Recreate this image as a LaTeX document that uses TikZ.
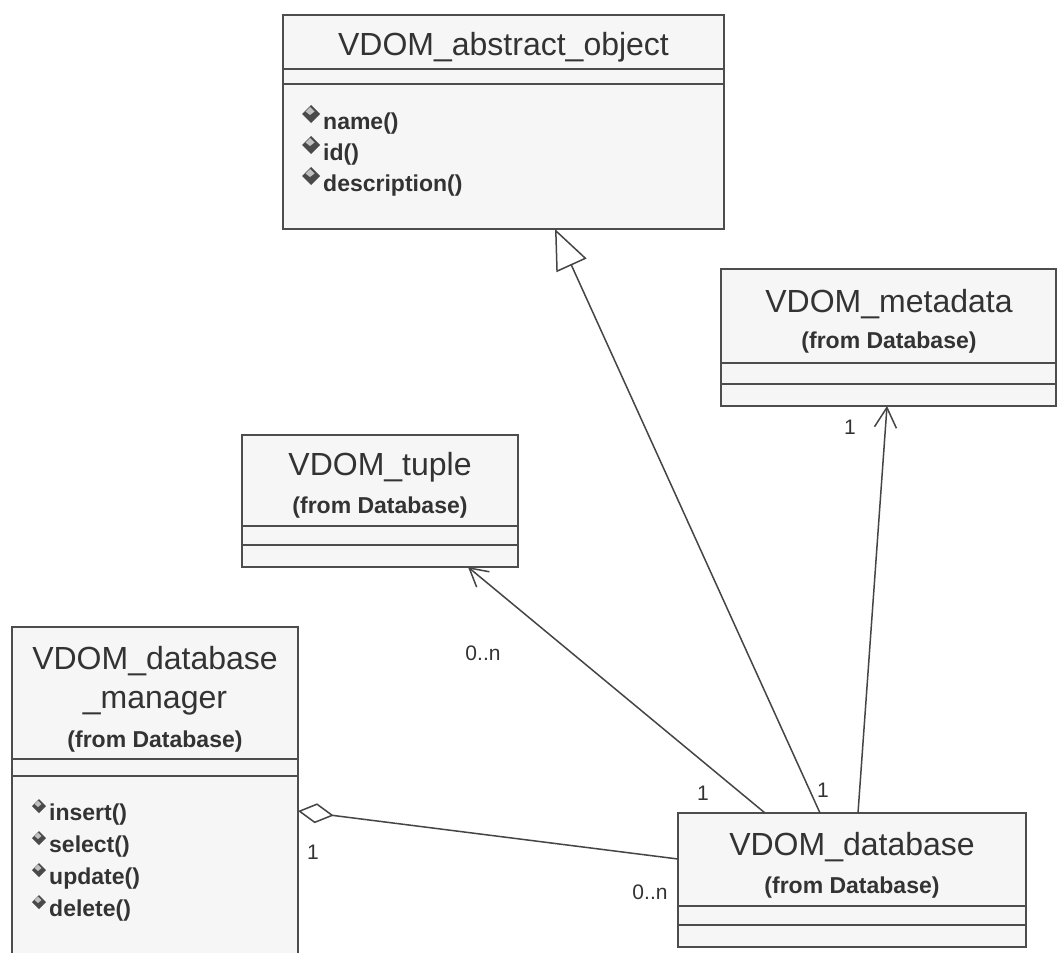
\documentclass[tikz,border=0pt]{standalone}
\usepackage{fontspec}
\setmainfont{Liberation Sans}
\usetikzlibrary{arrows.meta,calc}

\definecolor{boxline}{HTML}{4D4D4D}
\definecolor{boxfill}{HTML}{F6F6F6}
\definecolor{linkcol}{HTML}{454545}
\definecolor{txtcol}{HTML}{333333}
\definecolor{iconcol}{HTML}{4A4A4A}

\tikzset{
  cls/.style={draw=boxline, line width=2pt, fill=boxfill, rectangle,
              inner sep=0pt, outer sep=0pt, anchor=north west},
  sep/.style={draw=boxline, line width=2pt},
  ttl/.style={font=\fontsize{32}{36}\selectfont, text=txtcol,
              inner sep=0pt, anchor=base},
  sub/.style={font=\fontsize{23}{27}\selectfont\bfseries, text=txtcol,
              inner sep=0pt, anchor=base},
  op/.style={font=\fontsize{23}{27}\selectfont\bfseries, text=txtcol,
             inner sep=0pt, anchor=base west},
  mult/.style={font=\fontsize{21}{24}\selectfont, text=txtcol, inner sep=0pt},
  link/.style={draw=linkcol, line width=1.5pt},
  opicon/.pic={
    \fill[iconcol] (0,-9) -- (9,0) -- (0,9) -- (-9,0) -- cycle;
    \fill[white!65!iconcol] (-1,-7) -- (3.5,-2.5) -- (-1,1) -- (-5.5,-2.5) -- cycle;
  },
  smallicon/.pic={
    \fill[iconcol] (0,-7) -- (7,0) -- (0,7) -- (-7,0) -- cycle;
    \fill[white!65!iconcol] (-1,-5.5) -- (2.5,-2) -- (-1,1) -- (-4.5,-2) -- cycle;
  },
}

\begin{document}
\begin{tikzpicture}[x=1pt, y=-1pt]
  \useasboundingbox (0,0) rectangle (1058,953);
  \fill[white] (0,0) rectangle (1058,953);
  \clip (0,0) rectangle (1058,953);

  % ---- class boxes ----
  \node[cls, minimum width=441pt, minimum height=214pt] (abs)  at (283,15)  {};
  \node[cls, minimum width=335pt, minimum height=137pt] (meta) at (721,269) {};
  \node[cls, minimum width=276pt, minimum height=132pt] (tup)  at (242,435) {};
  \node[cls, minimum width=286pt, minimum height=345pt] (mgr)  at (12,627)  {};
  \node[cls, minimum width=348pt, minimum height=134pt] (db)   at (678,813) {};

  % ---- compartment separators ----
  \foreach \b/\a/\c in {abs/54/69, meta/94/115, tup/91/110, mgr/132/149, db/93/112}{
    \draw[sep] ([yshift=-\a pt]\b.north west) -- ([yshift=-\a pt]\b.north east);
    \draw[sep] ([yshift=-\c pt]\b.north west) -- ([yshift=-\c pt]\b.north east);
  }

  % ---- class names ----
  \node[ttl] (absT)  at (503.5,55) {VDOM\_abstract\_object};
  \node[ttl] (metaT) at (889,312)  {VDOM\_metadata};
  \node[sub] (metaS) at (889,348)  {(from Database)};
  \node[ttl] (tupT)  at (380,475)  {VDOM\_tuple};
  \node[sub] (tupS)  at (380,513)  {(from Database)};
  \node[ttl] (mgrT1) at (155,669)  {VDOM\_database};
  \node[ttl] (mgrT2) at (155,708)  {\_manager};
  \node[sub] (mgrS)  at (155,747)  {(from Database)};
  \node[ttl] (dbT)   at (852,855)  {VDOM\_database};
  \node[sub] (dbS)   at (852,893)  {(from Database)};

  % ---- operations ----
  \node[op] (op1) at (323,129) {name()};
  \node[op] (op2) at (323,160) {id()};
  \node[op] (op3) at (323,191) {description()};
  \foreach \y in {114,145,176} \pic at (311,\y) {opicon};

  \node[op] (op4) at (49,820) {insert()};
  \node[op] (op5) at (49,852) {select()};
  \node[op] (op6) at (49,884) {update()};
  \node[op] (op7) at (49,916) {delete()};
  \foreach \y in {806,838,870,902} \pic at (39,\y) {smallicon};

  % ---- relationships ----
  % generalization
  \draw[link, -{Triangle[open, fill=white, length=40pt, width=33pt]}]
    ([xshift=142pt]db.north west) -- ([xshift=272pt]abs.south west);
  % associations
  \draw[link, -{Straight Barb[length=20pt, width=22pt]}]
    ([xshift=180pt]db.north west) -- ([xshift=166pt]meta.south west);
  \draw[link, -{Straight Barb[length=18pt, width=20pt]}]
    ([xshift=87pt]db.north west) -- ([xshift=226pt]tup.south west);
  % aggregation
  \draw[link, -{Diamond[open, fill=white, length=36pt, width=20pt]}]
    ([yshift=-46pt]db.north west) -- ([yshift=-184pt]mgr.north east);

  % ---- multiplicities ----
  \node[mult] (mGen)  at (823,790) {1};
  \node[mult] (mTupA) at (703,793) {1};
  \node[mult] (mTupB) at (483,653) {0..n};
  \node[mult] (mMeta) at (850,427) {1};
  \node[mult] (mMgrA) at (313,852) {1};
  \node[mult] (mMgrB) at (650,892) {0..n};
\end{tikzpicture}
\end{document}
